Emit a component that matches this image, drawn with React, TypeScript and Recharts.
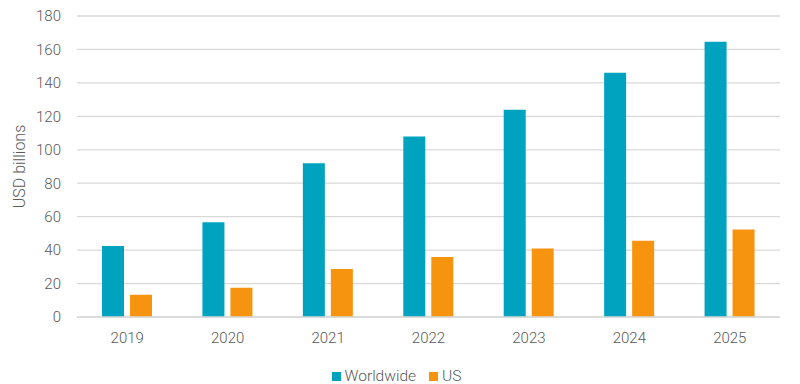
import React from 'react';
import { BarChart, Bar, XAxis, YAxis, CartesianGrid, Legend } from 'recharts';

const years = ['2019', '2020', '2021', '2022', '2023', '2024', '2025'];
const worldwide = [42.5, 56.6, 92, 108, 124, 146, 164.6];
const us = [13.3, 17.5, 28.7, 35.9, 40.9, 45.6, 52.4];
const yTicks = [0, 20, 40, 60, 80, 100, 120, 140, 160, 180];

const data = years.map((y, i) => ({ year: y, Worldwide: worldwide[i], US: us[i] }));

const TEAL = '#00A3BF';
const ORANGE = '#F7940F';
const TEXT = '#595959';
const FONT = 'Roboto, "Noto Sans", sans-serif';

const LegendContent = () => (
  <div
    style={{
      height: 20,
      width: 800,
      display: 'flex',
      justifyContent: 'center',
      alignItems: 'center',
      fontFamily: FONT,
      fontWeight: 300,
      fontSize: 15.5,
      color: TEXT,
      paddingRight: 7,
      boxSizing: 'border-box',
    }}
  >
    <span style={{ display: 'inline-block', width: 9, height: 9, background: TEAL, marginRight: 4 }} />
    <span style={{ marginRight: 13 }}>Worldwide</span>
    <span style={{ display: 'inline-block', width: 9, height: 9, background: ORANGE, marginRight: 4 }} />
    <span>US</span>
  </div>
);

const YLabel = (props: any) => {
  const vb = props.viewBox || {};
  const cy = vb.y + vb.height / 2;
  return (
    <text
      x={19}
      y={cy}
      transform={`rotate(-90, 19, ${cy})`}
      textAnchor="middle"
      dominantBaseline="central"
      fill={TEXT}
      style={{ fontFamily: FONT, fontWeight: 300, fontSize: 16 }}
    >
      USD billions
    </text>
  );
};

export default function App() {
  return (
    <div style={{ position: 'relative', left: -8, top: -8, width: 800, height: 384, background: '#fff' }}>
      <BarChart
        width={800}
        height={384}
        data={data}
        margin={{ top: 16, right: 20, left: 0, bottom: 17 }}
        barSize={22}
        barGap={6}
      >
        <CartesianGrid vertical={false} stroke="#d9d9d9" strokeWidth={1.3} />
        <XAxis
          dataKey="year"
          height={30}
          tickLine={false}
          axisLine={{ stroke: '#d9d9d9', strokeWidth: 1.3 }}
          tickMargin={9}
          tick={{ fill: TEXT, fontSize: 15, fontFamily: FONT, fontWeight: 300 }}
        />
        <YAxis
          width={77}
          domain={[0, 180]}
          ticks={yTicks}
          interval={0}
          tickLine={false}
          axisLine={false}
          tickMargin={10}
          tick={{ fill: TEXT, fontSize: 15, fontFamily: FONT, fontWeight: 300 }}
          label={<YLabel />}
        />
        <Legend
          verticalAlign="bottom"
          content={<LegendContent />}
          wrapperStyle={{ top: 366, left: 0, bottom: 'auto', width: 800 }}
        />
        <Bar dataKey="Worldwide" fill={TEAL} isAnimationActive={false} />
        <Bar dataKey="US" fill={ORANGE} isAnimationActive={false} />
      </BarChart>
    </div>
  );
}
